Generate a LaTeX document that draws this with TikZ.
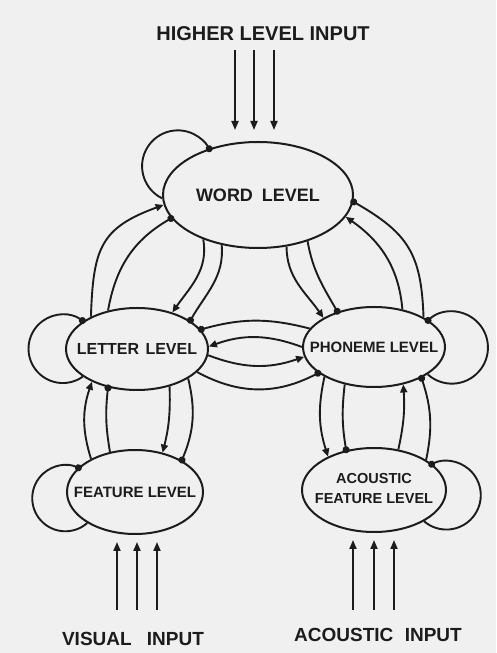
\documentclass[tikz,border=0pt]{standalone}
\usepackage{fontspec}
\setmainfont{Liberation Sans}
\usetikzlibrary{shapes.geometric,arrows.meta}
\definecolor{paper}{RGB}{240,240,240}
\definecolor{ink}{RGB}{28,28,28}
% level names are set in a zero-width box so the ellipse keeps its given size
\newcommand{\levelname}[1]{\makebox[0pt]{#1}}
\begin{document}
\begin{tikzpicture}[x=1pt,y=1pt,
  level/.style={ellipse, draw=ink, line width=2pt, fill=paper, inner sep=0pt,
    text=ink},
  link/.style={draw=ink, line width=1.9pt},
  excite/.style={link, -{Triangle[length=8pt,width=7pt]}},
  inhibit/.style={link, -{Circle[length=7pt]}, shorten >=-3pt},
  feed/.style={link, -{Triangle[length=9pt,width=7pt]}},
  caption/.style={text=ink, inner sep=0pt, font=\bfseries\fontsize{19}{21}\selectfont}
]
\fill[paper] (0,0) rectangle (496,653);
\useasboundingbox (0,0) rectangle (496,653);

% levels
\node[level, minimum width=190pt, minimum height=106pt,
      font=\bfseries\fontsize{18}{20}\selectfont] (word) at (258,458)
      {\levelname{WORD\hspace{0.5em}LEVEL}};
\node[level, minimum width=142pt, minimum height=82pt,
      font=\bfseries\fontsize{16}{18}\selectfont] (letter) at (137,304)
      {\levelname{LETTER\hspace{0.4em}LEVEL}};
\node[level, minimum width=142pt, minimum height=80pt,
      font=\bfseries\fontsize{15}{17}\selectfont] (phon) at (374,306)
      {\levelname{PHONEME LEVEL}};
\node[level, minimum width=136pt, minimum height=84pt,
      font=\bfseries\fontsize{15}{17}\selectfont] (feat) at (135,161)
      {\levelname{FEATURE LEVEL}};
\node[level, minimum width=144pt, minimum height=84pt,
      font=\bfseries\fontsize{14.5}{20}\selectfont] (acou) at (374,163)
      {\levelname{\begin{tabular}{@{}c@{}}ACOUSTIC\\FEATURE LEVEL\end{tabular}}};

% input captions
\node[caption, font=\bfseries\fontsize{20}{22}\selectfont] (hin) at (263,619) {HIGHER LEVEL INPUT};
\node[caption] (vin) at (133,14) {VISUAL\hspace{0.8em}INPUT};
\node[caption] (ain) at (378,18) {ACOUSTIC\hspace{0.6em}INPUT};

% external input arrows
\foreach \i/\x in {1/235,2/254,3/274}{
  \coordinate (h\i a) at (\x,603);
  \coordinate (h\i b) at (\x,523);
  \draw[feed] (h\i a) -- (h\i b);
}
\foreach \i/\x in {1/117,2/137,3/157}{
  \coordinate (v\i a) at (\x,43);
  \coordinate (v\i b) at (\x,111);
  \draw[feed] (v\i a) -- (v\i b);
}
\foreach \i/\x in {1/353,2/374,3/394}{
  \coordinate (a\i a) at (\x,43);
  \coordinate (a\i b) at (\x,113);
  \draw[feed] (a\i a) -- (a\i b);
}

% self loops (circular arcs leaving and re-entering each level)
\draw[inhibit] (word.182) arc[start angle=244, end angle=28.3, radius=35.8];
\draw[inhibit] (letter.207) arc[start angle=-54.4, end angle=-305.6, radius=34.3];
\draw[inhibit] (phon.-27) arc[start angle=-132.1, end angle=132.1, radius=36.1];
\draw[inhibit] (feat.213) arc[start angle=-48.6, end angle=-294.2, radius=33.1];
\draw[inhibit] (acou.-32) arc[start angle=-130.6, end angle=116.4, radius=34.35];

% word <-> letter
\draw[excite]  (letter.145) to[out=88,in=200,looseness=1.3] (word.186);
\draw[inhibit] (letter.127) to[out=80,in=210] (word.195);
\draw[excite]  (word.219) to[out=-80,in=55] (letter.46);
\draw[inhibit] (word.234) to[out=-85,in=60] (letter.28);

% word <-> phoneme
\draw[inhibit] (phon.31) to[out=92,in=-30,looseness=1.2] (word.-4);
\draw[excite]  (phon.53) to[out=95,in=-35] (word.-14);
\draw[excite]  (word.-61) to[out=-90,in=125] (phon.150);
\draw[inhibit] (word.-43) to[out=-80,in=120] (phon.136);

% letter <-> phoneme
\draw[inhibit] (phon.164) to[bend right=15] (letter.17);
\draw[excite]  (phon.180) to[bend right=20] (letter.2);
\draw[excite]  (letter.-5) to[bend right=20] (phon.188);
\draw[inhibit] (letter.-21) to[bend right=28] (phon.205);

% letter <-> feature
\draw[excite]  (feat.143) to[bend left=18] (letter.216);
\draw[inhibit] (feat.122) to[bend left=8] (letter.233);
\draw[excite]  (letter.-49) to[bend left=8] (feat.55);
\draw[inhibit] (letter.-30) to[bend left=18] (feat.34);

% phoneme <-> acoustic feature
\draw[excite]  (phon.211) to[bend right=15] (acou.144);
\draw[inhibit] (phon.232) to[bend right=8] (acou.125);
\draw[excite]  (acou.59) to[bend right=8] (phon.-52);
\draw[inhibit] (acou.30) to[bend right=15] (phon.-33);
\end{tikzpicture}
\end{document}
